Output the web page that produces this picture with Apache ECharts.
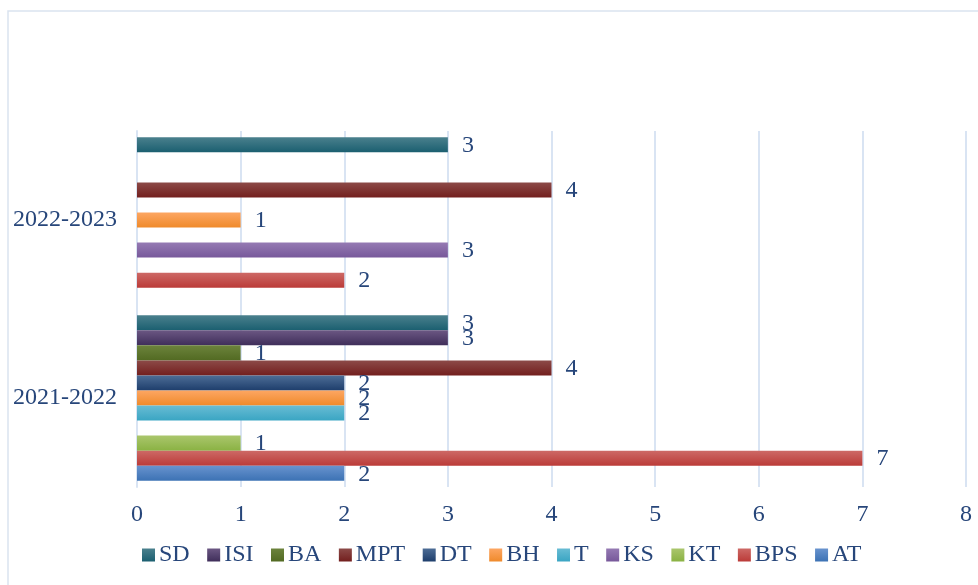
<!DOCTYPE html>
<html><head><meta charset="utf-8">
<script src="https://cdn.jsdelivr.net/npm/echarts@6/dist/echarts.min.js"></script>
<style>html,body{margin:0;padding:0;background:#fff}#c{width:978px;height:585px}</style>
</head><body><div id="c"></div>
<script>
const categories = ['2021-2022', '2022-2023'];
const seriesNames = ['SD', 'ISI', 'BA', 'MPT', 'DT', 'BH', 'T', 'KS', 'KT', 'BPS', 'AT'];
const SD  = [3, 3];
const ISI = [3, null];
const BA  = [1, null];
const MPT = [4, 4];
const DT  = [2, null];
const BH  = [2, 1];
const T   = [2, null];
const KS  = [null, 3];
const KT  = [1, null];
const BPS = [7, 2];
const AT  = [2, null];
const values = [SD, ISI, BA, MPT, DT, BH, T, KS, KT, BPS, AT];
const xTicks = [0, 1, 2, 3, 4, 5, 6, 7, 8];
const legendOrder = ['SD', 'ISI', 'BA', 'MPT', 'DT', 'BH', 'T', 'KS', 'KT', 'BPS', 'AT'];

const colors = {
  AT: ['#6893CE', '#3C72B4'], BPS: ['#CD6966', '#BB3B38'], KT: ['#AAC66C', '#8AB243'],
  KS: ['#957AB3', '#77589A'], T: ['#68BCD4', '#3AA5C3'], BH: ['#FDA662', '#EF8A2B'],
  DT: ['#4D6D96', '#1E3E6C'], MPT: ['#8C4A48', '#731F1E'], BA: ['#6C833C', '#526A22'],
  ISI: ['#6B5783', '#3F2E5A'], SD: ['#4A808D', '#1B5F70']
};
const txt = '#27467A';
const font = '"Liberation Serif", "Times New Roman", serif';

const chart = echarts.init(document.getElementById('c'), null, {renderer: 'canvas'});
const series = seriesNames.map((n, i) => ({
  name: n, type: 'bar',
  data: values[i].map(v => v === null ? '-' : v),
  barCategoryGap: '7%', barGap: '0%',
  itemStyle: { color: new echarts.graphic.LinearGradient(0, 0, 0, 1, [
    {offset: 0, color: colors[n][0]}, {offset: 1, color: colors[n][1]}]) },
  label: { show: true, position: 'right', distance: 14, color: txt, fontFamily: font, fontSize: 24, offset: [0, 1] }
}));
chart.setOption({
  animation: false,
  graphic: [{ type: 'rect', shape: {x: 8, y: 11, width: 985, height: 590},
    style: {fill: 'none', stroke: '#DAE3EF', lineWidth: 1.5}, silent: true }],
  grid: { left: 137, right: 12, top: 131, bottom: 98, containLabel: false },
  legend: {
    data: legendOrder, top: 538, left: 137, itemWidth: 13, itemHeight: 13, itemGap: 17.5,
    icon: 'rect', textStyle: { color: txt, fontFamily: font, fontSize: 24, padding: [0, 0, 0, -1] }
  },
  xAxis: { type: 'value', min: 0, max: 8, interval: 1,
    axisLine: {show: false}, axisTick: {show: false},
    axisLabel: { color: txt, fontFamily: font, fontSize: 24, margin: 16, formatter: v => xTicks.includes(v) ? String(v) : '' },
    splitLine: { lineStyle: { color: '#D9E4F3', width: 2 } } },
  yAxis: { type: 'category', data: categories,
    axisLine: { show: true, lineStyle: { color: '#D9E4F3', width: 2 } }, axisTick: {show: false},
    axisLabel: { color: txt, fontFamily: font, fontSize: 24, margin: 20 } },
  series: series
});
</script></body></html>
